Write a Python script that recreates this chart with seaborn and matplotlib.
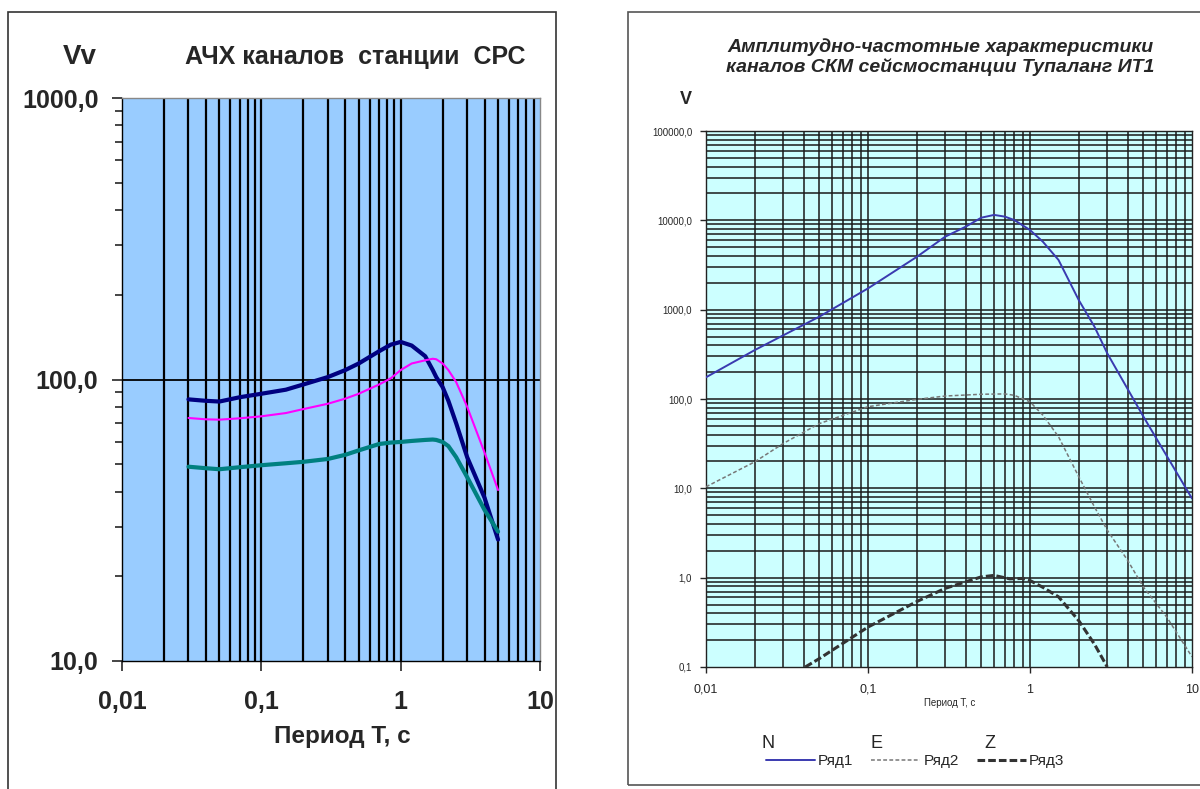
import numpy as np
import pandas as pd
import matplotlib
matplotlib.use("Agg")
import matplotlib.pyplot as plt
import seaborn as sns
from matplotlib.ticker import FixedLocator, FuncFormatter, NullFormatter
from matplotlib.patches import Rectangle
from matplotlib.lines import Line2D

# --- left chart data (AЧХ CPC) ---
t_left = [0.03, 0.04, 0.05, 0.07, 0.1, 0.15, 0.2, 0.3, 0.4, 0.5, 0.7, 0.85, 1.0, 1.2, 1.5, 1.7,
          1.8, 2.0, 2.2, 2.5, 3.0, 4.0, 5.0]
navy_vals = [85, 84, 83.5, 86.5, 89, 92, 96, 102, 108, 114, 126, 133, 136, 132, 121, 108,
             102, 94, 84, 70, 53, 38, 27]
magenta_vals = [73, 72.2, 72, 72.8, 74, 76, 78.5, 82, 85.5, 89, 96, 101, 108, 114, 117, 118.5,
                118, 114, 108, 98, 80, 55, 40.5]
teal_vals = [49, 48.4, 48, 48.8, 49.6, 50.4, 51, 52.2, 54, 56, 59, 59.7, 60, 60.5, 61, 61.2,
             61, 60, 58, 53, 45, 34.4, 28.8]

# --- right chart data (СКМ Тупаланг) ---
t_n = [0.01, 0.02, 0.05, 0.1, 0.2, 0.3, 0.4, 0.5, 0.6, 0.7, 0.8, 1.0, 1.2, 1.5, 2.0, 2.5, 3.0,
       5.0, 10.0]
n_vals = [175, 353, 834, 1730, 3900, 6570, 8470, 10700, 11500, 11000, 10070, 7790, 5770, 3600,
          1280, 645, 324, 64, 7.7]
t_e = [0.01, 0.02, 0.03, 0.05, 0.1, 0.2, 0.3, 0.5, 0.7, 0.8, 1.0, 1.2, 1.5, 2.0, 2.5, 3.0, 4.0,
       5.0, 7.0, 10.0]
e_vals = [10.4, 19.8, 31.8, 53, 82, 99, 108, 113, 114, 110, 93, 66, 37.8, 13.5, 6.2, 3.4, 1.57,
          0.79, 0.36, 0.13]
t_z = [0.041, 0.05, 0.1, 0.2, 0.3, 0.5, 0.6, 0.75, 0.9, 1.0, 1.2, 1.5, 2.0, 2.5, 3.0]
z_vals = [0.1, 0.124, 0.28, 0.54, 0.76, 1.02, 1.06, 0.97, 0.98, 0.93, 0.78, 0.61, 0.33, 0.18, 0.1]

sns.set_style("white")
plt.rcParams['font.family'] = ['Liberation Sans', 'DejaVu Sans']

W, H = 1200, 789
fig = plt.figure(figsize=(12, 7.89), dpi=100)


def box(x0, y0, x1, y1):
    # pixel box (top-left origin) -> figure fraction rect
    return [x0 / W, 1 - y1 / H, (x1 - x0) / W, (y1 - y0) / H]


def comma(v, _):
    if v >= 1:
        s = f"{v:.0f}"
    else:
        s = f"{v:g}"
    return s.replace('.', ',')


def comma1(v, _):
    return f"{v:.1f}".replace('.', ',')


def minor_positions(lo_exp, hi_exp):
    return [m * 10.0 ** e for e in range(lo_exp, hi_exp) for m in range(1, 10)] + [10.0 ** hi_exp]


# outer frames
fig.patches.append(Rectangle((8 / W, -0.01), 548 / W, 1 - 12 / H + 0.01, transform=fig.transFigure,
                             fill=False, edgecolor='#333333', lw=1.2))
fig.patches.append(Rectangle((628 / W, 1 - 785 / H), 600 / W, (785 - 12) / H, transform=fig.transFigure,
                             fill=False, edgecolor='#555555', lw=1.2))

# ================= LEFT =================
ax1 = fig.add_axes(box(122, 98, 540, 661))
ax1.set_facecolor('#99CCFF')
ax1.set_xscale('log')
ax1.set_yscale('log')
ax1.set_xlim(0.01, 10)
ax1.set_ylim(10, 1000)

for xv in minor_positions(-2, 1)[1:-1]:
    ax1.axvline(xv, color='black', lw=1.6, zorder=1)
ax1.axhline(100, color='black', lw=1.3, zorder=1)

sns.lineplot(x=t_left, y=navy_vals, ax=ax1, color='#000080', lw=3, zorder=3)
sns.lineplot(x=t_left, y=magenta_vals, ax=ax1, color='#FF00FF', lw=1.5, zorder=3)
sns.lineplot(x=t_left, y=teal_vals, ax=ax1, color='#008080', lw=3, zorder=3)

ax1.xaxis.set_major_locator(FixedLocator([0.01, 0.1, 1, 10]))
ax1.xaxis.set_minor_locator(FixedLocator([]))
ax1.xaxis.set_major_formatter(FuncFormatter(comma))
ax1.yaxis.set_major_locator(FixedLocator([10, 100, 1000]))
ax1.yaxis.set_minor_locator(FixedLocator([m * 10 ** e for e in (1, 2) for m in range(2, 10)]))
ax1.yaxis.set_major_formatter(FuncFormatter(comma1))
ax1.yaxis.set_minor_formatter(NullFormatter())
ax1.tick_params(axis='both', which='major', direction='out', length=7, width=1.2,
                labelsize=18, left=True, bottom=True)
ax1.tick_params(axis='x', which='major', pad=14)
ax1.tick_params(axis='y', which='major', pad=10)
ax1.tick_params(axis='y', which='minor', direction='out', length=5, width=1.2, left=True)
for lab in ax1.get_xticklabels() + ax1.get_yticklabels():
    lab.set_fontweight('bold')
for sp in ax1.spines.values():
    sp.set_color('#888888')
    sp.set_linewidth(1)
ax1.spines['left'].set_color('black')
ax1.spines['bottom'].set_color('black')

fig.text(80 / W, 1 - 57 / H, 'Vv', fontsize=20, fontweight='bold', ha='center', va='center')
fig.text(355 / W, 1 - 57 / H, 'АЧХ каналов  станции  СРС', fontsize=18, fontweight='bold',
         ha='center', va='center')
fig.text(342 / W, 1 - 737 / H, 'Период T, с', fontsize=17.5, fontweight='bold', ha='center', va='center')

# ================= RIGHT =================
ax2 = fig.add_axes(box(706, 131, 1192, 667))
ax2.set_facecolor('#CCFFFF')
ax2.set_xscale('log')
ax2.set_yscale('log')
ax2.set_xlim(0.01, 10)
ax2.set_ylim(0.1, 100000)

for xv in minor_positions(-2, 1)[1:-1]:
    ax2.axvline(xv, color='#1a1a1a', lw=1.1, zorder=1)
for yv in minor_positions(-1, 5)[1:-1]:
    ax2.axhline(yv, color='#1a1a1a', lw=1.1, zorder=1)

sns.lineplot(x=t_n, y=n_vals, ax=ax2, color='#3A3AB0', lw=1.4, zorder=3)
sns.lineplot(x=t_e, y=e_vals, ax=ax2, color='#777777', lw=1.1, linestyle=(0, (2.5, 1.5)), zorder=3)
sns.lineplot(x=t_z, y=z_vals, ax=ax2, color='#333333', lw=2.2, linestyle=(0, (2.5, 1)), zorder=3)

ax2.xaxis.set_major_locator(FixedLocator([0.01, 0.1, 1, 10]))
ax2.xaxis.set_minor_locator(FixedLocator([]))
ax2.xaxis.set_major_formatter(FuncFormatter(comma))
ax2.yaxis.set_major_locator(FixedLocator([10.0 ** e for e in range(-1, 6)]))
ax2.yaxis.set_minor_locator(FixedLocator([]))
ax2.yaxis.set_major_formatter(FuncFormatter(comma1))
ax2.tick_params(axis='both', which='major', direction='out', length=4, width=1,
                left=True, bottom=True)
ax2.tick_params(axis='y', labelsize=7, pad=6)
ax2.tick_params(axis='x', labelsize=9, pad=8)
for sp in ax2.spines.values():
    sp.set_color('#222222')
    sp.set_linewidth(1)

fig.text(940 / W, 1 - 57 / H, 'Амплитудно-частотные характеристики\nканалов СКМ сейсмостанции Тупаланг ИТ1',
         fontsize=14, fontweight='bold', style='italic', ha='center', va='center', linespacing=1.15)
fig.text(686 / W, 1 - 100 / H, 'V', fontsize=13, fontweight='bold', ha='center', va='center')
fig.text(950 / W, 1 - 703 / H, 'Период T, с', fontsize=7, ha='center', va='center')

for lbl, xp in (('N', 768), ('E', 877), ('Z', 990)):
    fig.text(xp / W, 1 - 744 / H, lbl, fontsize=13, ha='center', va='center')

handles = [
    Line2D([], [], color='#3A3AB0', lw=1.4),
    Line2D([], [], color='#777777', lw=1.1, linestyle=(0, (2.5, 1.5))),
    Line2D([], [], color='#333333', lw=2.2, linestyle=(0, (2.5, 1))),
]
fig.legend(handles, ['Ряд1', 'Ряд2', 'Ряд3'], loc='center', bbox_to_anchor=(915 / W, 1 - 761 / H),
           ncol=3, frameon=False, fontsize=11, handlelength=3.2, handletextpad=0.2, columnspacing=1.2)

fig.savefig('out.png', dpi=100, facecolor='white')
